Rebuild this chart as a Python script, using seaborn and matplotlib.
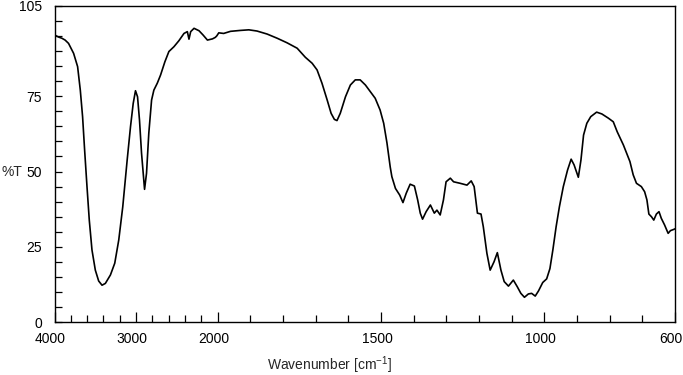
import numpy as np
import pandas as pd
import matplotlib
matplotlib.use('Agg')
import matplotlib.pyplot as plt
import matplotlib.transforms as mtransforms
import seaborn as sns
from matplotlib.ticker import FixedLocator, FixedFormatter

sns.set_style('ticks')
plt.rcParams['font.family'] = ['Liberation Sans', 'DejaVu Sans']
plt.rcParams['mathtext.default'] = 'regular'

# IR spectrum (wavenumber in cm-1, transmittance in %)
wavenumber = [4000, 3950, 3909, 3870, 3828, 3766, 3717, 3684, 3656, 3631, 3602, 3574,
              3541, 3500, 3459, 3418, 3377, 3315, 3262, 3213, 3164, 3110, 3069,
              3036, 3008, 2983, 2959, 2934, 2897, 2873, 2845, 2811, 2783, 2741,
              2701, 2648, 2599, 2537, 2476, 2414, 2373, 2353, 2332, 2291, 2230,
              2181, 2127, 2065, 2030, 2012,
              1997, 1982, 1961, 1931, 1905, 1880, 1849, 1818, 1788, 1757, 1732,
              1711, 1696, 1681, 1665, 1653, 1643, 1635, 1625, 1609, 1594, 1579,
              1564, 1548, 1533, 1518, 1503, 1492, 1482, 1472, 1467, 1456, 1443,
              1433, 1423, 1411, 1398, 1388, 1380, 1373, 1362, 1349, 1337, 1329,
              1319, 1309, 1301, 1288, 1278, 1258, 1237, 1224, 1215, 1205, 1194,
              1187, 1176, 1166, 1154, 1144, 1133, 1123, 1110, 1095, 1083, 1072,
              1061, 1049, 1039, 1028, 1018, 1005, 993, 983, 974, 964, 954, 942,
              929, 918, 909, 896, 888, 880, 870, 858, 840, 824, 804, 789, 777,
              758, 738, 728, 718, 703, 693, 686, 680, 672, 665, 657, 649, 642,
              632, 621, 614, 604, 600]
transmittance = [95.3, 94.6, 94.2, 93.6, 92.5, 89.2, 84.8, 77.0, 68.2, 57.1, 45.0, 33.9,
                 24.0, 17.3, 13.7, 12.3, 12.9, 15.7, 19.6, 27.3, 38.3, 53.8, 64.9,
                 72.6, 76.8, 74.8, 67.1, 56.1, 44.1, 49.4, 62.7, 73.7, 77.0, 79.3,
                 82.0, 86.4, 89.8, 91.4, 93.4, 95.8, 96.4, 93.9, 96.4, 97.5, 96.7,
                 95.3, 93.6, 94.0, 94.5, 95.0,
                 96.0, 95.8, 96.5, 96.8, 97.0, 96.6, 95.6, 94.2, 92.7, 90.9, 87.9,
                 85.9, 83.7, 79.3, 73.7, 69.3, 67.3, 66.9, 69.3, 74.8, 78.7, 80.4,
                 80.4, 78.7, 76.5, 74.3, 70.4, 66.0, 59.5, 51.5, 48.3, 44.4, 42.2,
                 39.7, 42.8, 45.8, 45.2, 40.6, 36.2, 34.2, 36.7, 38.9, 36.2, 37.2,
                 35.6, 40.6, 46.6, 47.8, 46.6, 46.1, 45.5, 46.9, 45.0, 36.2, 35.9,
                 31.7, 22.9, 17.3, 20.1, 23.1, 17.3, 13.5, 12.0, 14.0, 11.8, 9.6,
                 8.3, 9.4, 9.6, 8.7, 10.4, 13.2, 14.4, 17.8, 24.0, 31.7, 38.3, 45.0,
                 50.5, 54.1, 52.2, 48.1, 53.8, 62.1, 66.0, 68.2, 69.7, 69.1, 67.7,
                 66.5, 63.2, 58.8, 53.3, 48.9, 46.1, 45.0, 43.3, 40.6, 35.9, 35.0,
                 33.9, 35.9, 36.7, 34.5, 32.3, 29.5, 30.4, 30.8, 31.0]

x_major = [4000, 3000, 2000, 1500, 1000, 600]
x_minor = [3800, 3600, 3400, 3200, 2800, 2600, 2400, 2200,
           1900, 1800, 1700, 1600, 1400, 1300, 1200, 1100, 900, 800, 700]
y_major = [0, 25, 50, 75, 105]
y_minor = [5, 10, 15, 20, 30, 35, 40, 45, 55, 60, 65, 70, 80, 85, 90, 95, 100]

df = pd.DataFrame({'wn': wavenumber, 'T': transmittance})


# spectrum axis: 4000-2000 compressed 4x relative to 2000-600
def fwd(x):
    x = np.asarray(x, dtype=float)
    return np.where(x > 2000, 2000 + (x - 2000) / 4.0, x)


def inv(y):
    y = np.asarray(y, dtype=float)
    return np.where(y > 2000, 2000 + (y - 2000) * 4.0, y)


fig = plt.figure(figsize=(6.83, 3.75), dpi=100)
ax = fig.add_axes([54.5 / 683, 1 - 322.3 / 375, 620.5 / 683, 316.6 / 375])
ax.set_xscale('function', functions=(fwd, inv))

sns.lineplot(data=df, x='wn', y='T', ax=ax, color='black', linewidth=1.2,
             estimator=None, sort=True)

ax.set_xlim(4000, 600)
ax.set_ylim(0, 105)

ax.xaxis.set_major_locator(FixedLocator(x_major))
ax.xaxis.set_major_formatter(FixedFormatter([str(v) for v in x_major]))
ax.xaxis.set_minor_locator(FixedLocator(x_minor))
ax.yaxis.set_major_locator(FixedLocator(y_major))
ax.yaxis.set_major_formatter(FixedFormatter([str(v) for v in y_major]))
ax.yaxis.set_minor_locator(FixedLocator(y_minor))

ax.tick_params(axis='both', which='both', direction='in', width=0.9,
               labelsize=10, colors='black')
ax.tick_params(axis='x', which='major', length=7.2, pad=7)
ax.tick_params(axis='x', which='minor', length=4.7)
ax.tick_params(axis='y', which='both', length=5.0, pad=9)

# x tick labels sit a few pixels left of their ticks in the reference
shift = mtransforms.ScaledTranslation(-4 / 100, 0, fig.dpi_scale_trans)
for lbl in ax.get_xticklabels():
    lbl.set_transform(lbl.get_transform() + shift)

for s in ax.spines.values():
    s.set_linewidth(1.0)
    s.set_color('black')

ax.set_xlabel('Wavenumber [cm$^{-1}$]', fontsize=10, va='center')
ax.xaxis.set_label_coords((330 - 54.5) / 620.5, (322.3 - 365) / 316.6)
ax.set_ylabel('%T', fontsize=10, rotation=0, ha='center', va='center')
ax.yaxis.set_label_coords((12 - 54.5) / 620.5, (322.3 - 172) / 316.6)

fig.savefig('out.png', dpi=100)
